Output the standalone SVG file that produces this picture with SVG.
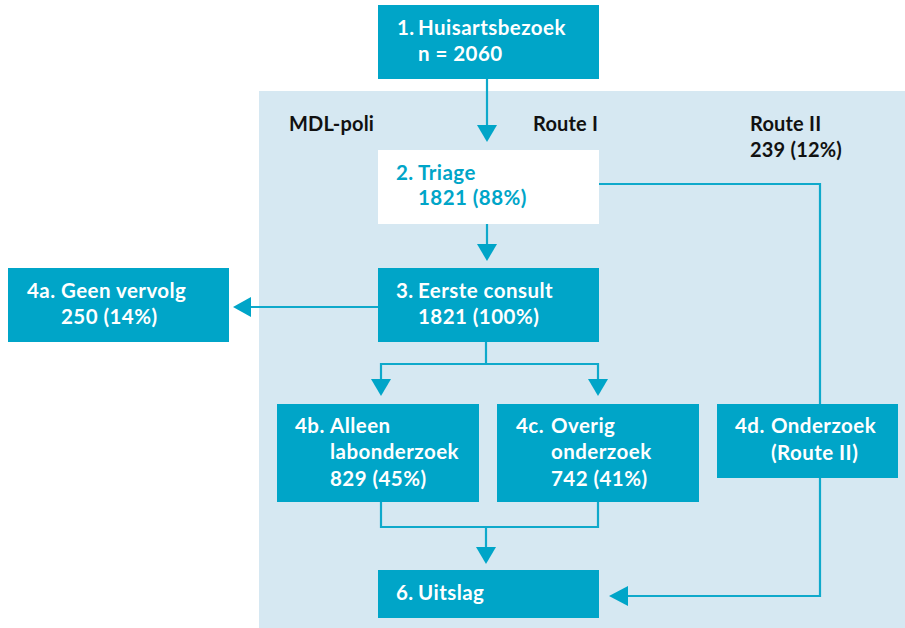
<svg xmlns="http://www.w3.org/2000/svg" width="905" height="628" viewBox="0 0 905 628">
<defs>
<style>
.box{fill:#00A5C8}
.wbox{fill:#ffffff}
.t{font-family:Lato,"Open Sans","Liberation Sans",sans-serif;font-weight:700;font-size:20.5px;letter-spacing:0.45px;fill:#ffffff}
.tb{font-family:Lato,"Open Sans","Liberation Sans",sans-serif;font-weight:700;font-size:20.5px;letter-spacing:0.45px;fill:#00A5C8}
.lbl{font-family:Lato,"Open Sans","Liberation Sans",sans-serif;font-weight:700;font-size:20px;letter-spacing:0.2px;fill:#111111}
.ln{fill:none;stroke:#0FA9CB;stroke-width:2.2}
.ah{fill:#00A5C8}
</style>
</defs>
<rect x="259" y="91" width="646" height="537" fill="#D6E8F2"/>
<g id="labels">
<text class="lbl" x="289" y="131">MDL-poli</text>
<text class="lbl" x="533" y="131">Route I</text>
<text class="lbl" x="750" y="131">Route II</text>
<text class="lbl" x="750" y="157">239 (12%)</text>
</g>
<g id="connectors">
<path class="ln" d="M487,79 V126"/>
<path class="ah" d="M477,125 L497,125 L487,142 Z"/>
<path class="ln" d="M487,224 V245"/>
<path class="ah" d="M477,244 L497,244 L487,261 Z"/>
<path class="ln" d="M378,307 H250"/>
<path class="ah" d="M251,297 L251,317 L233,307 Z"/>
<path class="ln" d="M486,341 V364 M381,380 V364 H598 V380"/>
<path class="ah" d="M371,379 L391,379 L381,396 Z"/>
<path class="ah" d="M588,379 L608,379 L598,396 Z"/>
<path class="ln" d="M381,502 V527 H598 V502 M486,527 V548"/>
<path class="ah" d="M476,547 L496,547 L486,564 Z"/>
<path class="ln" d="M599,184 H820 V404 M820,478 V596 H627"/>
<path class="ah" d="M628,586 L628,606 L609,596 Z"/>
</g>
<g id="n1">
<rect class="box" x="378" y="5" width="221" height="74"/>
<text class="t" x="397" y="35">1.<tspan x="418">Huisartsbezoek</tspan></text>
<text class="t" x="418" y="61">n = 2060</text>
</g>
<g id="n2">
<rect class="wbox" x="378" y="150" width="221" height="74"/>
<text class="tb" x="396" y="180">2.<tspan x="418">Triage</tspan></text>
<text class="tb" x="418" y="205">1821 (88%)</text>
</g>
<g id="n3">
<rect class="box" x="378" y="268" width="221" height="74"/>
<text class="t" x="396" y="298">3.<tspan x="418">Eerste consult</tspan></text>
<text class="t" x="418" y="324">1821 (100%)</text>
</g>
<g id="n4a">
<rect class="box" x="8" y="268" width="221" height="74"/>
<text class="t" x="27" y="298">4a.<tspan x="61">Geen vervolg</tspan></text>
<text class="t" x="61" y="324">250 (14%)</text>
</g>
<g id="n4b">
<rect class="box" x="277" y="404" width="202" height="98"/>
<text class="t" x="295" y="433">4b.<tspan x="330">Alleen</tspan></text>
<text class="t" x="330" y="459">labonderzoek</text>
<text class="t" x="330" y="486">829 (45%)</text>
</g>
<g id="n4c">
<rect class="box" x="497" y="404" width="202" height="98"/>
<text class="t" x="516" y="433">4c.<tspan x="551">Overig</tspan></text>
<text class="t" x="551" y="459">onderzoek</text>
<text class="t" x="551" y="486">742 (41%)</text>
</g>
<g id="n4d">
<rect class="box" x="717" y="404" width="181" height="74"/>
<text class="t" x="735" y="433">4d.<tspan x="771">Onderzoek</tspan></text>
<text class="t" x="771" y="460">(Route II)</text>
</g>
<g id="n6">
<rect class="box" x="378" y="570" width="221" height="48"/>
<text class="t" x="396" y="600">6.<tspan x="418">Uitslag</tspan></text>
</g>
</svg>
